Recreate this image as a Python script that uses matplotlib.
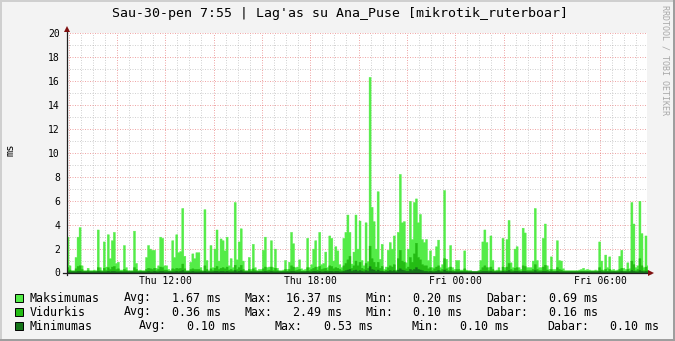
import matplotlib
matplotlib.use('Agg')
import matplotlib.pyplot as plt
import matplotlib.dates as mdates
import matplotlib.ticker as ticker
from matplotlib.patches import Rectangle
import numpy as np
import pandas as pd

plt.rcParams['font.family'] = ['DejaVu Sans Mono']

title = "Sau-30-pen 7:55 | Lag'as su Ana_Puse [mikrotik_ruterboar]"
start = pd.Timestamp('2015-01-29 07:55')
end = pd.Timestamp('2015-01-30 07:55')
step = '5min'

# 5 minute samples, ms
max_ms = [
    3.0, 0.6, 0.2, 0.2, 1.3, 3.0, 3.8, 0.6, 0.2, 0.2,
    0.4, 0.2, 0.2, 0.25, 0.2, 3.6, 0.45, 0.2, 2.6, 0.5,
    3.2, 1.2, 2.7, 3.4, 0.8, 0.9, 0.25, 0.25, 2.3, 0.45,
    0.2, 0.2, 0.2, 3.5, 0.8, 0.2, 0.25, 0.2, 0.2, 1.3,
    2.3, 2.0, 1.9, 1.9, 0.4, 0.6, 3.0, 2.9, 0.6, 0.6,
    0.3, 0.2, 2.7, 1.3, 3.2, 1.7, 1.8, 5.4, 1.4, 0.2,
    0.2, 0.9, 1.6, 1.2, 1.7, 1.7, 0.45, 0.2, 5.3, 1.05,
    0.2, 2.3, 0.45, 2.0, 3.6, 1.0, 2.85, 2.7, 1.85, 3.0,
    0.6, 1.2, 0.45, 5.9, 1.1, 2.6, 3.7, 1.0, 0.2, 0.2,
    1.3, 0.3, 2.4, 0.45, 0.2, 0.3, 0.3, 1.9, 3.0, 0.45,
    0.5, 2.7, 0.45, 2.0, 0.4, 0.2, 0.2, 0.25, 1.05, 0.3,
    0.9, 3.4, 2.45, 0.45, 0.5, 1.1, 0.35, 0.25, 0.3, 2.9,
    0.45, 0.7, 2.0, 2.7, 0.5, 3.4, 0.7, 0.8, 1.75, 0.45,
    3.1, 2.9, 1.0, 2.2, 1.85, 0.7, 0.45, 2.9, 3.4, 4.85,
    3.4, 0.75, 1.75, 4.85, 2.0, 4.35, 1.05, 0.6, 4.2, 0.95,
    16.37, 5.5, 4.3, 2.0, 6.8, 1.15, 2.4, 0.3, 0.5, 1.9,
    2.55, 2.0, 3.1, 0.25, 3.4, 8.25, 4.2, 4.3, 0.85, 2.0,
    6.0, 2.8, 5.9, 6.2, 4.2, 4.9, 2.8, 2.55, 2.8, 1.05,
    1.85, 0.45, 1.4, 2.2, 2.75, 0.45, 0.7, 6.9, 1.15, 0.45,
    2.3, 0.45, 0.3, 1.05, 1.05, 0.25, 0.25, 1.85, 0.25, 0.2,
    0.2, 0.1, 0.1, 0.1, 0.2, 1.05, 2.6, 3.6, 2.55, 0.45,
    3.1, 1.05, 0.2, 0.25, 0.45, 0.2, 2.9, 0.45, 2.8, 4.4,
    0.85, 0.45, 2.0, 2.2, 0.45, 0.3, 3.75, 3.35, 0.45, 0.45,
    0.45, 1.0, 5.4, 1.05, 0.45, 0.45, 2.9, 4.1, 0.6, 0.3,
    1.35, 0.3, 0.3, 2.7, 1.05, 1.0, 0.35, 0.2, 0.2, 0.2,
    0.2, 0.2, 0.2, 0.2, 0.25, 0.3, 0.4, 0.25, 0.3, 0.25,
    0.2, 0.2, 0.25, 0.2, 2.6, 1.0, 0.25, 1.5, 0.45, 1.35,
    0.25, 0.3, 0.2, 0.25, 1.4, 1.9, 0.4, 0.3, 0.85, 0.35,
    5.9, 4.1, 0.45, 0.6, 6.0, 3.3, 0.45, 3.1, 0.6, 0.45,
]

avg_ms = [
    0.45, 0.25, 0.15, 0.15, 0.35, 0.55, 0.6, 0.3, 0.15, 0.15,
    0.2, 0.12, 0.12, 0.15, 0.12, 0.45, 0.2, 0.12, 0.4, 0.2,
    0.45, 0.3, 0.5, 0.55, 0.3, 0.35, 0.15, 0.12, 0.3, 0.2,
    0.12, 0.12, 0.12, 0.45, 0.3, 0.12, 0.15, 0.12, 0.12, 0.3,
    0.4, 0.35, 0.3, 0.4, 0.2, 0.3, 0.5, 0.45, 0.25, 0.25,
    0.15, 0.12, 0.35, 0.3, 0.4, 0.35, 0.4, 0.75, 0.35, 0.12,
    0.15, 0.3, 0.35, 0.3, 0.3, 0.3, 0.2, 0.12, 0.6, 0.3,
    0.12, 0.35, 0.2, 0.4, 0.55, 0.3, 0.4, 0.45, 0.35, 0.5,
    0.25, 0.3, 0.2, 0.65, 0.3, 0.45, 0.65, 0.3, 0.12, 0.12,
    0.3, 0.15, 0.35, 0.2, 0.12, 0.15, 0.15, 0.35, 0.5, 0.2,
    0.25, 0.5, 0.2, 0.4, 0.2, 0.12, 0.12, 0.15, 0.3, 0.15,
    0.3, 0.6, 0.5, 0.2, 0.25, 0.3, 0.15, 0.15, 0.15, 0.45,
    0.2, 0.3, 0.4, 0.5, 0.25, 0.55, 0.3, 0.35, 0.4, 0.2,
    0.6, 0.55, 0.35, 0.45, 0.4, 0.3, 0.2, 0.6, 0.8, 1.1,
    1.4, 0.4, 0.6, 1.0, 0.6, 0.9, 0.4, 0.3, 0.8, 0.4,
    2.25, 1.2, 0.9, 0.5, 0.9, 0.4, 0.55, 0.15, 0.25, 0.45,
    0.6, 0.5, 0.7, 0.15, 1.2, 1.9, 1.0, 0.9, 0.35, 0.5,
    1.3, 0.9, 1.6, 2.49, 1.3, 1.1, 0.7, 0.6, 0.6, 0.35,
    0.45, 0.2, 0.35, 0.5, 0.6, 0.2, 0.3, 1.2, 0.35, 0.2,
    0.5, 0.2, 0.15, 0.3, 0.3, 0.15, 0.15, 0.35, 0.15, 0.12,
    0.12, 0.1, 0.1, 0.1, 0.12, 0.25, 0.45, 0.6, 0.45, 0.2,
    0.5, 0.3, 0.12, 0.15, 0.2, 0.12, 0.5, 0.2, 0.5, 0.8,
    0.3, 0.2, 0.4, 0.45, 0.2, 0.15, 0.6, 0.55, 0.2, 0.2,
    0.2, 0.3, 0.7, 0.3, 0.2, 0.2, 0.5, 0.65, 0.25, 0.15,
    0.3, 0.15, 0.15, 0.45, 0.3, 0.25, 0.15, 0.12, 0.12, 0.12,
    0.12, 0.12, 0.12, 0.12, 0.12, 0.15, 0.15, 0.12, 0.15, 0.12,
    0.12, 0.12, 0.12, 0.12, 0.45, 0.25, 0.12, 0.3, 0.15, 0.3,
    0.12, 0.15, 0.12, 0.12, 0.3, 0.4, 0.15, 0.15, 0.3, 0.15,
    1.0, 0.7, 0.2, 0.3, 1.2, 0.6, 0.2, 0.5, 0.25, 0.2,
]

min_ms = [
    0.1, 0.1, 0.1, 0.1, 0.1, 0.15, 0.15, 0.1, 0.1, 0.1,
    0.1, 0.1, 0.1, 0.1, 0.1, 0.15, 0.1, 0.1, 0.1, 0.1,
    0.15, 0.1, 0.15, 0.15, 0.1, 0.1, 0.1, 0.1, 0.1, 0.1,
    0.1, 0.1, 0.1, 0.1, 0.1, 0.1, 0.1, 0.1, 0.1, 0.1,
    0.15, 0.1, 0.1, 0.15, 0.1, 0.1, 0.15, 0.15, 0.1, 0.1,
    0.1, 0.1, 0.1, 0.1, 0.15, 0.1, 0.15, 0.2, 0.1, 0.1,
    0.1, 0.1, 0.15, 0.1, 0.1, 0.1, 0.1, 0.1, 0.15, 0.1,
    0.1, 0.1, 0.1, 0.15, 0.15, 0.1, 0.15, 0.15, 0.1, 0.15,
    0.1, 0.1, 0.1, 0.2, 0.1, 0.15, 0.2, 0.1, 0.1, 0.1,
    0.1, 0.1, 0.1, 0.1, 0.1, 0.1, 0.1, 0.1, 0.15, 0.1,
    0.1, 0.15, 0.1, 0.1, 0.1, 0.1, 0.1, 0.1, 0.1, 0.1,
    0.1, 0.15, 0.15, 0.1, 0.1, 0.1, 0.1, 0.1, 0.1, 0.15,
    0.1, 0.1, 0.15, 0.15, 0.1, 0.15, 0.1, 0.1, 0.15, 0.1,
    0.15, 0.15, 0.1, 0.15, 0.15, 0.1, 0.1, 0.15, 0.2, 0.25,
    0.3, 0.15, 0.2, 0.25, 0.15, 0.2, 0.15, 0.1, 0.2, 0.15,
    0.53, 0.3, 0.25, 0.15, 0.25, 0.15, 0.15, 0.1, 0.1, 0.15,
    0.2, 0.15, 0.2, 0.1, 0.25, 0.35, 0.25, 0.2, 0.15, 0.15,
    0.3, 0.2, 0.3, 0.45, 0.3, 0.25, 0.2, 0.15, 0.15, 0.1,
    0.15, 0.1, 0.1, 0.15, 0.2, 0.1, 0.1, 0.25, 0.15, 0.1,
    0.15, 0.1, 0.1, 0.1, 0.1, 0.1, 0.1, 0.1, 0.1, 0.1,
    0.1, 0.1, 0.1, 0.1, 0.1, 0.1, 0.15, 0.15, 0.15, 0.1,
    0.15, 0.1, 0.1, 0.1, 0.1, 0.1, 0.15, 0.1, 0.15, 0.2,
    0.1, 0.1, 0.15, 0.15, 0.1, 0.1, 0.15, 0.15, 0.1, 0.1,
    0.1, 0.1, 0.2, 0.1, 0.1, 0.1, 0.15, 0.15, 0.1, 0.1,
    0.1, 0.1, 0.1, 0.15, 0.1, 0.1, 0.1, 0.1, 0.1, 0.1,
    0.1, 0.1, 0.1, 0.1, 0.1, 0.1, 0.1, 0.1, 0.1, 0.1,
    0.1, 0.1, 0.1, 0.1, 0.15, 0.1, 0.1, 0.1, 0.1, 0.1,
    0.1, 0.1, 0.1, 0.1, 0.1, 0.15, 0.1, 0.1, 0.1, 0.1,
    0.2, 0.15, 0.1, 0.1, 0.2, 0.15, 0.1, 0.15, 0.1, 0.1,
]

series_names = ['Maksimumas', 'Vidurkis', 'Minimumas']
series_colors = ['#54EC48', '#24BC14', '#157419']
stat_avg = ['1.67', '0.36', '0.10']
stat_max = ['16.37', '2.49', '0.53']
stat_min = ['0.20', '0.10', '0.10']
stat_cur = ['0.69', '0.16', '0.10']

W, H = 675, 341
fig = plt.figure(figsize=(W / 100, H / 100), dpi=100, facecolor='#F3F3F3')


def px(x, y):
    # pixel position (from top-left) -> figure fraction
    return x / W, 1 - y / H


ax = fig.add_axes([66.5 / W, 1 - 272.5 / H, 580 / W, 239 / H])
ax.set_facecolor('white')

times = pd.date_range(start, periods=len(max_ms) + 1, freq=step)
x = mdates.date2num(times.to_pydatetime())
for vals, color in zip([max_ms, avg_ms, min_ms], series_colors):
    v = np.append(vals, vals[-1])
    ax.fill_between(x, 0, v, step='post', facecolor=color, edgecolor=color,
                    lw=0.3, zorder=2)

ax.set_xlim(mdates.date2num(start.to_pydatetime()), mdates.date2num(end.to_pydatetime()))
ax.set_ylim(0, 20)

ax.yaxis.set_major_locator(ticker.MultipleLocator(2))
ax.yaxis.set_minor_locator(ticker.MultipleLocator(1))
ax.xaxis.set_major_locator(mdates.HourLocator(byhour=range(0, 24, 2)))
ax.xaxis.set_minor_locator(mdates.MinuteLocator(byminute=[0, 30]))


def fmt_time(val, pos):
    d = mdates.num2date(val)
    return d.strftime('%a %H:%M') if d.hour % 6 == 0 and d.minute == 0 else ''


ax.xaxis.set_major_formatter(ticker.FuncFormatter(fmt_time))
ax.set_axisbelow(True)
ax.grid(which='major', color='#E05050', alpha=0.5, linestyle=(0, (1, 1.5)), lw=0.72)
ax.grid(which='minor', color='#8F8F8F', alpha=0.4, linestyle=(0, (1, 1.5)), lw=0.72)
ax.tick_params(which='both', length=0)
ax.tick_params(axis='y', pad=4.7, labelsize=7)
ax.tick_params(axis='x', pad=2.5, labelsize=7)
for s in ax.spines.values():
    s.set_visible(False)

# axes with arrows
ax.plot([-0.006, 1.007], [0, 0], color='#202020', lw=0.9, transform=ax.transAxes,
        clip_on=False, zorder=5)
ax.plot([0, 0], [-0.01, 1.02], color='#202020', lw=0.9, transform=ax.transAxes,
        clip_on=False, zorder=5)
ax.plot([1.0085], [0], marker='>', ms=4.2, color='#801010', mew=0,
        transform=ax.transAxes, clip_on=False, zorder=6)
ax.plot([0], [1.02], marker='^', ms=4.2, color='#801010', mew=0,
        transform=ax.transAxes, clip_on=False, zorder=6)

fig.text(*px(340.5, 14), title, ha='center', va='center', fontsize=9.5)
fig.text(*px(10, 150), 'ms', ha='center', va='center', rotation=90, fontsize=7.5)
fig.text(*px(665.5, 60), 'RRDTOOL / TOBI OETIKER', ha='center', va='center',
         rotation=-90, fontsize=6, color='#A8A8A8')

# legend (rows 1-2 share tab stops, row 3 is shifted)
cols_a = [124.0, 220.4, 244.5, 341.4, 365.0, 461.9, 486.4, 597.5]
cols_b = [139.0, 235.5, 274.6, 372.4, 411.1, 508.0, 547.6, 658.6]
for i, name in enumerate(series_names):
    yc = 298 + 14 * i
    cols = cols_b if i == 2 else cols_a
    fig.add_artist(Rectangle(px(15, yc + 4), 7.5 / W, 8 / H, transform=fig.transFigure,
                             facecolor=series_colors[i], edgecolor='black', lw=0.7))
    fig.text(*px(30, yc), name, ha='left', va='center', fontsize=8.4)
    items = [('Avg:', stat_avg[i]), ('Max:', stat_max[i]),
             ('Min:', stat_min[i]), ('Dabar:', stat_cur[i])]
    for k, (lbl, val) in enumerate(items):
        fig.text(*px(cols[2 * k], yc), lbl, ha='left', va='center', fontsize=8.4)
        fig.text(*px(cols[2 * k + 1] + 0.5, yc), val + ' ms', ha='right', va='center',
                 fontsize=8.4)

# 3d frame
fig.add_artist(Rectangle((0, 0), 2 / W, 1, transform=fig.transFigure, color='#CFCFCF', lw=0))
fig.add_artist(Rectangle((0, 1 - 2 / H), 1, 2 / H, transform=fig.transFigure, color='#CFCFCF', lw=0))
fig.add_artist(Rectangle((1 - 2 / W, 0), 2 / W, 1, transform=fig.transFigure, color='#9E9E9E', lw=0))
fig.add_artist(Rectangle((0, 0), 1, 2 / H, transform=fig.transFigure, color='#9E9E9E', lw=0))

fig.savefig('out.png', dpi=100, facecolor=fig.get_facecolor())
